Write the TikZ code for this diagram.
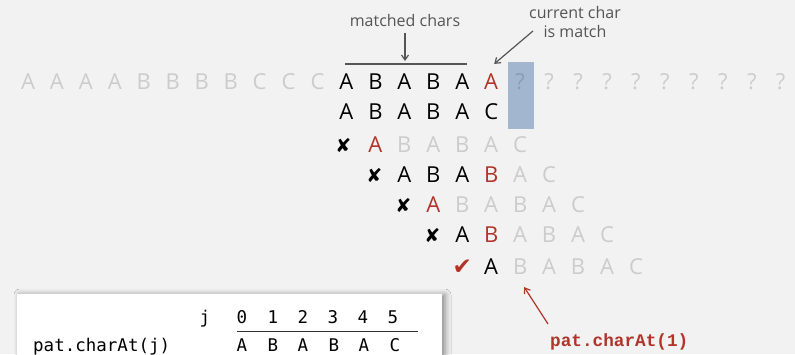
\documentclass[tikz,border=0pt]{standalone}
\usepackage{fontspec}
\setmainfont{Open Sans}
\setmonofont{DejaVu Sans Mono}
\newfontfamily\codebold{Liberation Mono}[BoldFont={Liberation Mono Bold}]
\newfontfamily\symfont{DejaVu Sans}
\usetikzlibrary{arrows.meta,shadows.blur}

\definecolor{bgc}{RGB}{242,242,242}
\definecolor{faded}{RGB}{204,204,204}
\definecolor{hit}{RGB}{178,52,40}
\definecolor{hlbox}{RGB}{162,182,207}
\definecolor{hlq}{RGB}{140,156,182}
\definecolor{notec}{RGB}{85,85,85}

\tikzset{
  ch/.style={inner sep=0pt, anchor=center, font=\fontsize{22}{22}\selectfont},
  verdict/.style={inner sep=0pt, anchor=center, font=\symfont\fontsize{19}{19}\selectfont},
  note/.style={inner sep=2pt, text=notec, align=center, font=\fontsize{16}{19}\selectfont},
  notearrow/.style={draw=notec, line width=1.2pt, -{Straight Barb[length=5pt,width=7pt]}},
  tabtext/.style={inner sep=0pt, anchor=base, font=\ttfamily\fontsize{17.5}{17.5}\selectfont},
  codelabel/.style={inner sep=0pt, anchor=base west, text=hit, font=\codebold\bfseries\fontsize{17.7}{17.7}\selectfont},
}

\newcommand{\colx}[1]{28+28.95*#1}

\begin{document}
\begin{tikzpicture}[x=1pt,y=-1pt]
\fill[bgc] (0,0) rectangle (795,354);
\useasboundingbox (0,0) rectangle (795,354);

% cell of the text under the current pattern position
\fill[hlbox] (508,62) rectangle (534,129);

% text row
\foreach \c [count=\i from 0] in {A,A,A,A,B,B,B,B,C,C,C}
  \node[ch, text=faded] (t\i) at ({\colx{\i}},82) {\c};
\foreach \c [count=\i from 11] in {A,B,A,B,A}
  \node[ch] (t\i) at ({\colx{\i}},82) {\c};
\node[ch, text=hit] (t16) at ({\colx{16}},82) {A};
\node[ch, text=hlq] (t17) at ({\colx{17}},82) {?};
\foreach \i in {18,...,26}
  \node[ch, text=faded] (t\i) at ({\colx{\i}},82) {?};

% pattern aligned with the matched prefix
\foreach \c [count=\i from 11] in {A,B,A,B,A,C}
  \node[ch] (a\i) at ({\colx{\i}},112) {\c};

% shift 1
\node[verdict] (x1) at ({\colx{11}-3},145) {✘};
\node[ch, text=hit] (b12) at ({\colx{12}},145) {A};
\foreach \c [count=\i from 13] in {B,A,B,A,C}
  \node[ch, text=faded] (b\i) at ({\colx{\i}},145) {\c};

% shift 2
\node[verdict] (x2) at ({\colx{12}-1},175) {✘};
\foreach \c [count=\i from 13] in {A,B,A}
  \node[ch] (c\i) at ({\colx{\i}},175) {\c};
\node[ch, text=hit] (c16) at ({\colx{16}},175) {B};
\foreach \c [count=\i from 17] in {A,C}
  \node[ch, text=faded] (c\i) at ({\colx{\i}},175) {\c};

% shift 3
\node[verdict] (x3) at ({\colx{13}-1},205) {✘};
\node[ch, text=hit] (d14) at ({\colx{14}},205) {A};
\foreach \c [count=\i from 15] in {B,A,B,A,C}
  \node[ch, text=faded] (d\i) at ({\colx{\i}},205) {\c};

% shift 4
\node[verdict] (x4) at ({\colx{14}-1},235) {✘};
\node[ch] (e15) at ({\colx{15}},235) {A};
\node[ch, text=hit] (e16) at ({\colx{16}},235) {B};
\foreach \c [count=\i from 17] in {A,B,A,C}
  \node[ch, text=faded] (e\i) at ({\colx{\i}},235) {\c};

% shift 5
\node[verdict, text=hit, font=\symfont\fontsize{23}{23}\selectfont] (ok) at ({\colx{15}},267) {✔};
\node[ch] (f16) at ({\colx{16}},267) {A};
\foreach \c [count=\i from 17] in {B,A,B,A,C}
  \node[ch, text=faded] (f\i) at ({\colx{\i}},267) {\c};

% annotations above the text
\coordinate (mL) at (345,64);
\coordinate (mR) at (467,64);
\draw[draw=notec, line width=1.2pt] (mL) -- (mR);
\node[note] (matched) at (405,20) {matched chars};
\coordinate (mTip) at (405,61);
\draw[notearrow, shorten <=5pt] (matched) -- (mTip);
\node[note] (cur) at (575,22) {current char\\is match};
\draw[notearrow] ([shift={(6,9)}]cur.west) -- ([shift={(3,-10)}]t16.north);

% table of pattern characters
\fill[white, blur shadow={shadow xshift=3pt, shadow yshift=-1pt, shadow blur radius=6pt, shadow opacity=45}]
  (17,294) rectangle (442,380);
\node[tabtext] (jlab) at (205,323) {j};
\foreach \d [count=\k from 0] in {242,273,303,333,363,393}
  \node[tabtext] (idx\k) at (\d,323) {\k};
\coordinate (uL) at (237,331);
\coordinate (uR) at (418,331);
\draw[line width=0.7pt, black!80] (uL) -- (uR);
\node[tabtext, anchor=base west] (patlab) at (33,351) {pat.charAt(j)};
\foreach \c/\d [count=\k from 0] in {A/242,B/273,A/303,B/334,A/364,C/395}
  \node[tabtext] (pc\k) at (\d,351) {\c};

% pointer to the next pattern character
\node[codelabel] (next) at (550,346) {pat.charAt(1)};
\draw[draw=hit, line width=1.2pt, -{Straight Barb[length=5pt,width=7pt]}]
  ([shift={(-2,-9)}]next.north west) -- ([shift={(4,12)}]f17.south);
\end{tikzpicture}
\end{document}
